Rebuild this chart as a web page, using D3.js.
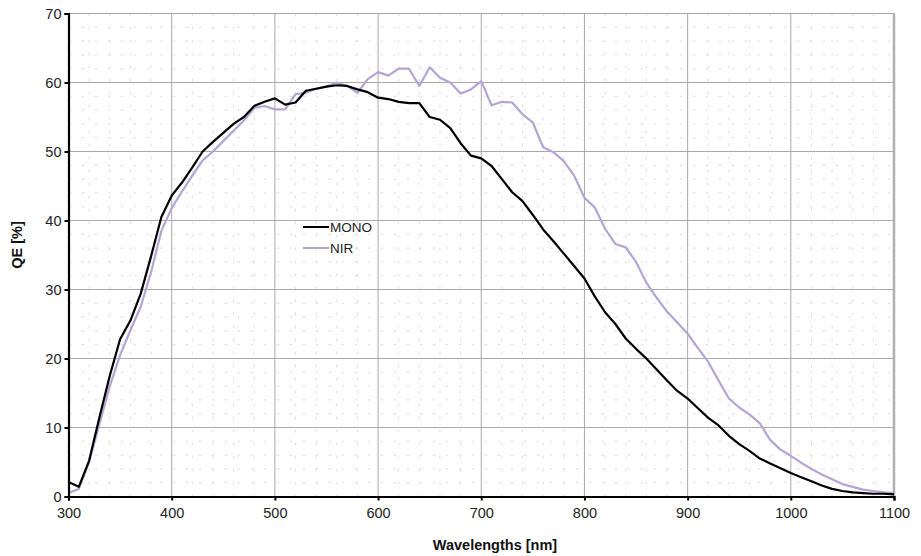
<!DOCTYPE html>
<html><head><meta charset="utf-8">
<script src="https://cdn.jsdelivr.net/npm/d3@7"></script>
<style>
body{margin:0;background:#fff;}
text{font-family:"Liberation Sans",Arial,Helvetica,sans-serif;}
</style>
</head><body>
<svg id="c" width="921" height="556"></svg>
<script>
const wavelengths = d3.range(300, 1101, 10);
const mono = [2.1,1.4,5.2,11.5,17.5,22.8,25.5,29.4,34.8,40.5,
43.6,45.5,47.7,50.0,51.4,52.7,54.0,55.0,56.6,57.2,
57.7,56.8,57.1,58.8,59.1,59.4,59.6,59.5,59.0,58.6,
57.8,57.6,57.2,57.0,57.0,55.0,54.6,53.4,51.2,49.4,
49.0,47.9,46.0,44.1,42.8,40.8,38.7,37.0,35.2,33.4,
31.6,29.0,26.7,25.0,22.9,21.4,20.0,18.4,16.8,15.3,
14.2,12.8,11.4,10.3,8.8,7.6,6.6,5.5,4.8,4.1,
3.4,2.8,2.2,1.6,1.1,0.8,0.6,0.5,0.4,0.4,0.3];
const nir = [0.5,1.1,5.0,10.5,16.0,20.5,24.1,27.5,32.5,38.5,
41.8,44.2,46.5,48.7,50.0,51.5,53.0,54.5,56.3,56.6,
56.1,56.1,58.3,58.5,59.1,59.4,60.0,59.5,58.5,60.5,
61.5,61.0,62.0,62.0,59.5,62.2,60.7,60.0,58.4,59.0,
60.2,56.7,57.2,57.1,55.4,54.2,50.6,49.9,48.6,46.5,
43.3,41.9,38.8,36.6,36.1,34.0,31.0,28.8,26.8,25.2,
23.6,21.5,19.5,16.8,14.2,12.9,11.9,10.6,8.2,6.8,
5.9,4.9,4.0,3.2,2.5,1.8,1.4,1.0,0.8,0.6,0.5];
const xTicks = [300,400,500,600,700,800,900,1000,1100];
const yTicks = [0,10,20,30,40,50,60,70];
const seriesNames = ["MONO","NIR"];
const seriesColors = ["#000000","#b3a5d3"];

const svg = d3.select("#c");
const L = 68.5, R = 894, T = 13.5, B = 496.5;
const x = d3.scaleLinear().domain([300,1100]).range([L,R]);
const y = d3.scaleLinear().domain([0,70]).range([B,T]);

// minor grid
const g = svg.append("g");
g.selectAll("line.mx").data(d3.range(320,1100,20).filter(v=>v%100!==0)).join("line")
  .attr("x1",d=>x(d)).attr("x2",d=>x(d)).attr("y1",T).attr("y2",B)
  .attr("stroke","#dedede").attr("stroke-width",1).attr("stroke-dasharray","3,10");
g.selectAll("line.my").data(d3.range(2,70,2).filter(v=>v%10!==0)).join("line")
  .attr("y1",d=>y(d)).attr("y2",d=>y(d)).attr("x1",L).attr("x2",R)
  .attr("stroke","#dedede").attr("stroke-width",1).attr("stroke-dasharray","3,10");
// major grid
g.selectAll("line.gx").data(xTicks.slice(1)).join("line")
  .attr("x1",d=>x(d)).attr("x2",d=>x(d)).attr("y1",T).attr("y2",B)
  .attr("stroke",d=>d===1100?"#b0b0b0":"#a8a8a8").attr("stroke-width",d=>d===1100?2.5:1);
svg.append("g").selectAll("line").data(yTicks.slice(1)).join("line")
  .attr("y1",d=>y(d)).attr("y2",d=>y(d)).attr("x1",L).attr("x2",R)
  .attr("stroke","#a8a8a8").attr("stroke-width",1);

// lines
const line = d3.line().x((d,i)=>x(wavelengths[i])).y(d=>y(d));
[nir, mono].forEach((s,k)=>{
  const idx = k===0?1:0;
  svg.append("path").datum(s).attr("d",line).attr("fill","none")
    .attr("stroke",seriesColors[idx]).attr("stroke-width",2.2).attr("stroke-linejoin","round");
});

// axes
const xa = svg.append("g").attr("transform",`translate(0,${B})`)
  .call(d3.axisBottom(x).tickValues(xTicks).tickSize(4).tickPadding(7).tickFormat(d3.format("d")));
const ya = svg.append("g").attr("transform",`translate(${L},0)`)
  .call(d3.axisLeft(y).tickValues(yTicks).tickSize(4).tickPadding(3).tickFormat(d3.format("d")));
[xa,ya].forEach(a=>{
  a.select(".domain").attr("stroke","#000").attr("stroke-width",2.2);
  a.selectAll(".tick line").attr("stroke","#000").attr("stroke-width",2);
  a.selectAll(".tick text").attr("font-size",14.5).attr("fill","#222")
   .attr("font-family","'Liberation Sans',Arial,sans-serif");
});

// axis titles
svg.append("text").attr("x",495).attr("y",550).attr("text-anchor","middle")
  .attr("font-size",14.5).attr("font-weight","bold").attr("fill","#111").text("Wavelengths [nm]");
svg.append("text").attr("transform","translate(22,245) rotate(-90)").attr("text-anchor","middle")
  .attr("font-size",14.5).attr("font-weight","bold").attr("fill","#111").text("QE [%]");

// legend
const lg = svg.append("g");
seriesNames.forEach((n,i)=>{
  const yy = 227 + i*21;
  lg.append("line").attr("x1",303).attr("x2",329).attr("y1",yy).attr("y2",yy)
    .attr("stroke",seriesColors[i]).attr("stroke-width",2);
  lg.append("text").attr("x",330).attr("y",yy+5).attr("font-size",13.5).attr("fill","#222").text(n);
});
</script>
</body></html>
